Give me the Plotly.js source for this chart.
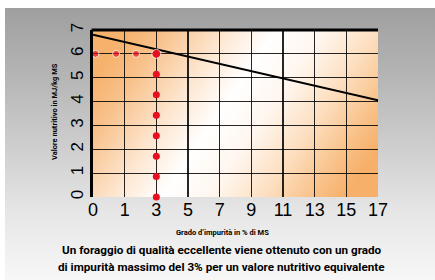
<!DOCTYPE html>
<html>
<head>
<meta charset="utf-8">
<script src="https://cdn.plot.ly/plotly-3.0.1.min.js"></script>
<style>
html,body{margin:0;padding:0;background:#fff;width:435px;height:280px;overflow:hidden;}
#bg{position:absolute;left:5px;top:8px;width:430px;height:272px;
background:linear-gradient(to bottom,#9f9f9f 0%,#b5b5b5 25%,#cdcdcd 50%,#e6e6e6 75%,#f7f7f7 100%);}
#chart{position:absolute;left:0;top:0;width:435px;height:280px;}
</style>
</head>
<body>
<div id="bg"></div>
<div id="chart"></div>
<script>
// Tick labels of the impurity axis (equally spaced on the chart)
const xTickLabels = ["0","1","3","5","7","9","11","13","15","17"];
const xTickPos = [0,1,2,3,4,5,6,7,8,9];
const yTickVals = [0,1,2,3,4,5,6,7];

// Nutritive value line (positions on the impurity axis)
const lineX = [0, 9];
const lineY = [6.8, 4.05];

// Red dots: horizontal run at 6 MJ/kg MS
const hDotsX = [0.08, 0.73, 1.36, 2];
const hDotsY = [6, 6, 6, 6];
// Red dots: vertical run at 3 % impurity
const vDotsX = [2, 2, 2, 2, 2, 2, 2, 2];
const vDotsY = [6, 5.14, 4.29, 3.43, 2.57, 1.71, 0.86, 0];

const xTitle = "Grado d’impurità in % di MS";
const yTitle = "Valore nutritivo in MJ/kg MS";

// Caption lines
const captionLines = [
  "Un foraggio di qualità eccellente viene ottenuto con un grado",
  "di impurità massimo del 3% per un valore nutritivo equivalente",
  "almeno a 6 MJ/kg MS"
];
const captionY = [-0.317, -0.419, -0.521];

const narrow = "Roboto, Liberation Sans Narrow, sans-serif";

const gradSvg = '<svg xmlns="http://www.w3.org/2000/svg" width="300" height="170" viewBox="0 0 300 170" preserveAspectRatio="none">' +
 '<defs><linearGradient id="g" x1="0" y1="0.3" x2="1" y2="0.7">' +
 '<stop offset="0" stop-color="#f6b26c"/>' +
 '<stop offset="0.12" stop-color="#f8c28c"/>' +
 '<stop offset="0.3" stop-color="#fde6d0"/>' +
 '<stop offset="0.45" stop-color="#ffffff"/>' +
 '<stop offset="0.6" stop-color="#fff6ee"/>' +
 '<stop offset="0.75" stop-color="#fde0c2"/>' +
 '<stop offset="0.9" stop-color="#f9c28a"/>' +
 '<stop offset="1" stop-color="#f6b06a"/>' +
 '</linearGradient></defs><rect width="300" height="170" fill="url(#g)"/></svg>';
const gradUri = "data:image/svg+xml;charset=utf-8," + encodeURIComponent(gradSvg);

const traces = [
  {x: lineX, y: lineY, type: "scatter", mode: "lines",
   line: {color: "#000", width: 2}, hoverinfo: "skip", cliponaxis: false},
  {x: vDotsX, y: vDotsY, type: "scatter", mode: "markers",
   marker: {color: "#e8101e", size: 7}, cliponaxis: false},
  {x: hDotsX, y: hDotsY, type: "scatter", mode: "markers",
   marker: {color: "#e8101e", size: [7,7,7,9]}, cliponaxis: false},
  {x: [], y: [], xaxis: "x2", yaxis: "y2", type: "scatter", showlegend: false}
];

const annotations = captionLines.map((t, i) => ({
  xref: "paper", yref: "paper", x: 0.452, y: captionY[i], xanchor: "center", yanchor: "middle",
  showarrow: false, text: "<b>" + t + "</b>",
  font: {family: narrow, size: 11.7, color: "#000"}
}));
annotations.push({
  xref: "paper", yref: "paper", x: 0.456, y: -0.21, xanchor: "center", yanchor: "middle",
  showarrow: false, text: "<b>" + xTitle + "</b>",
  font: {family: narrow, size: 7.5, color: "#000"}
});
annotations.push({
  xref: "paper", yref: "paper", x: -0.133, y: 0.509, xanchor: "center", yanchor: "middle",
  textangle: -90, showarrow: false, text: "<b>" + yTitle + "</b>",
  font: {family: narrow, size: 7.5, color: "#000"}
});

const layout = {
  width: 435, height: 280,
  margin: {l: 93, r: 57, t: 30, b: 83},
  paper_bgcolor: "rgba(0,0,0,0)",
  plot_bgcolor: "rgba(0,0,0,0)",
  showlegend: false,
  xaxis: {
    range: [0, 9], tickvals: xTickPos, ticktext: xTickLabels,
    showgrid: false, zeroline: false, showline: false, ticks: "",
    tickfont: {family: "Liberation Sans, Arial, sans-serif", size: 18, color: "#000"}
  },
  yaxis: {
    range: [0, 7], tickvals: yTickVals, tickangle: -90,
    showgrid: false, zeroline: false, showline: true, linecolor: "#000", linewidth: 3,
    ticks: "",
    tickfont: {family: "Liberation Sans, Arial, sans-serif", size: 17, color: "#000"}
  },
  xaxis2: {overlaying: "x", range: [0, 9], tickvals: [1,2,3,4,5,6,7,8],
    showgrid: true, gridcolor: "rgba(0,0,0,0.85)", gridwidth: 1.2,
    showticklabels: false, zeroline: false, showline: false, ticks: ""},
  yaxis2: {overlaying: "y", range: [0, 7], tickvals: [1,2,3,4,5,6],
    showgrid: true, gridcolor: "rgba(0,0,0,0.85)", gridwidth: 1.2,
    showticklabels: false, zeroline: false, showline: false, ticks: ""},
  shapes: [
    {type: "line", xref: "paper", yref: "paper", x0: -0.005, x1: 1, y0: 1, y1: 1,
     line: {color: "#000", width: 3}}
  ],
  images: [
    {source: gradUri, xref: "paper", yref: "paper", x: 0, y: 1, sizex: 1, sizey: 1,
     xanchor: "left", yanchor: "top", sizing: "stretch", layer: "below"}
  ],
  annotations: annotations
};

Plotly.newPlot("chart", traces, layout, {staticPlot: true, displayModeBar: false});
</script>
</body>
</html>
